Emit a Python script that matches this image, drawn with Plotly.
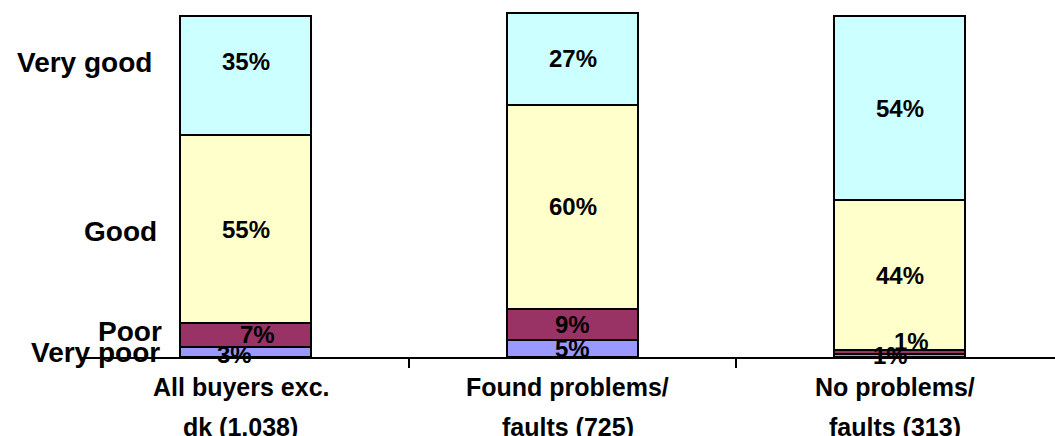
import plotly.graph_objects as go

# Survey groups (two-line captions under each bar)
group_line1 = ["All buyers exc.", "Found problems/", "No problems/"]
group_line2 = ["dk (1,038)", "faults (725)", "faults (313)"]

# Rating categories, stacked bottom to top
ratings = ["Very poor", "Poor", "Good", "Very good"]
very_poor = [3, 5, 1]
poor = [7, 9, 1]
good = [55, 60, 44]
very_good = [35, 27, 54]
series_values = [very_poor, poor, good, very_good]

colors = ["#9999FF", "#993366", "#FFFFCC", "#CCFFFF"]

# Nudges (px) for labels that would otherwise collide in thin segments
label_shift = {
    (0, 0): (-11, -3), (1, 0): (12, 0), (3, 0): (0, 14),
    (0, 2): (-9, 0), (1, 2): (12, 10),
}
# Rating captions on the left: right edge (px from plot left) and vertical nudge
caption_right = [80, 82, 77, 72]
caption_shift = [-1, 3, -2, 13]

FONT = "Liberation Sans, Arial, sans-serif"
x_pos = list(range(len(group_line1)))

fig = go.Figure()
for name, vals, col in zip(ratings, series_values, colors):
    fig.add_trace(go.Bar(
        x=x_pos, y=vals, name=name, width=0.4,
        marker=dict(color=col, line=dict(color="black", width=2)),
        hoverinfo="skip",
    ))

annotations = []
# Percentage labels centred in each segment
for gi in x_pos:
    base = 0
    for si, vals in enumerate(series_values):
        v = vals[gi]
        dx, dy = label_shift.get((si, gi), (0, 0))
        annotations.append(dict(
            x=gi, y=base + v / 2, xref="x", yref="y",
            text=f"<b>{v}%</b>", showarrow=False,
            xshift=dx, yshift=dy,
            font=dict(family=FONT, size=24, color="black"),
        ))
        base += v

# Rating captions beside the first bar
base = 0
for si, name in enumerate(ratings):
    v = series_values[si][0]
    annotations.append(dict(
        x=0, xref="paper", y=base + v / 2, yref="y",
        text=f"<b>{name}</b>", showarrow=False,
        xanchor="right", xshift=caption_right[si], yshift=caption_shift[si],
        font=dict(family=FONT, size=28, color="black"),
    ))
    base += v

# Group captions under the axis
for gi in x_pos:
    for line, dy in ((group_line1[gi], -30), (group_line2[gi], -70)):
        annotations.append(dict(
            x=gi, xref="x", y=0, yref="paper",
            text=f"<b>{line}</b>", showarrow=False,
            yanchor="middle", yshift=dy, xshift=-5,
            font=dict(family=FONT, size=25, color="black"),
        ))

fig.update_layout(
    barmode="stack",
    width=1055, height=436,
    margin=dict(l=82, r=0, t=0, b=79),
    plot_bgcolor="white", paper_bgcolor="white",
    showlegend=False,
    annotations=annotations,
    xaxis=dict(
        range=[-0.5, 2.474], showgrid=False, zeroline=False,
        showline=True, linecolor="black", linewidth=2,
        tickvals=[0.5, 1.5], ticks="outside", ticklen=9,
        tickwidth=2, tickcolor="black", showticklabels=False,
    ),
    yaxis=dict(range=[0, 104.7], visible=False, showgrid=False),
)

fig.write_html("out.html")
